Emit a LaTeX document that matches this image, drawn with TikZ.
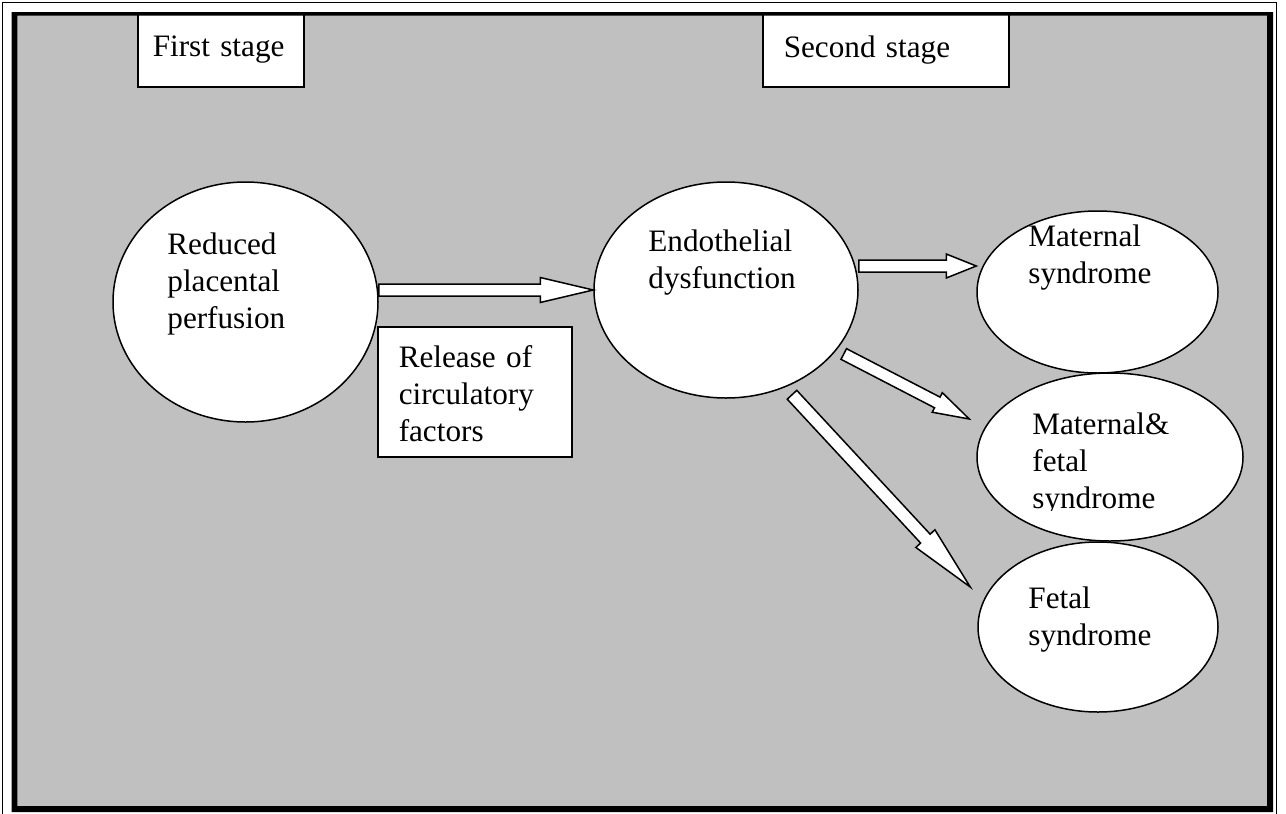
\documentclass[tikz,border=0pt]{standalone}
\usepackage{fontspec}
\setmainfont{Liberation Serif}
\usepackage{tikz}
\usetikzlibrary{shapes.geometric}
\usetikzlibrary{calc}
\usepackage{xcolor}
\definecolor{panelgray}{HTML}{C0C0C0}

\newcommand{\blockarrow}[5]{%
  \coordinate (ba-s) at (#1);
  \coordinate (ba-e) at (#2);
  \coordinate (ba-h) at ($(ba-e)!#5!(ba-s)$);
  \draw [fill=white,line width=0.75pt]
    ($(ba-s)!#3!90:(ba-e)$) -- ($(ba-h)!#3!90:(ba-e)$) -- ($(ba-h)!#4!90:(ba-e)$)
    -- (ba-e) -- ($(ba-h)!#4!-90:(ba-e)$) -- ($(ba-h)!#3!-90:(ba-e)$)
    -- ($(ba-s)!#3!-90:(ba-e)$) -- cycle;}

\begin{document}
\begin{tikzpicture}[x=0.5pt,y=-0.5pt,
  bubble/.style={ellipse,draw,fill=white,line width=0.75pt,inner sep=0pt},
  caption/.style={anchor=base west,align=left,inner sep=0pt,font=\fontsize{15.6}{18.5}\selectfont},
  textbox/.style={rectangle,draw,fill=white,line width=0.75pt,anchor=north west,
    inner ysep=0pt,align=left,font=\fontsize{15.6}{18.5}\selectfont}]
\useasboundingbox (0,0) rectangle (1286,814);
\fill [panelgray] (17,15) rectangle (1268,807);

\node [textbox,inner xsep=7.5pt,text width=68pt,minimum height=37pt,at={(137,12)}] (first) {First stage};
\node [textbox,inner xsep=10.5pt,text width=102pt,minimum height=37pt,at={(762,12)}] (second) {Second stage};

\node [bubble,minimum width=132.5pt,minimum height=120pt,at={(245.5,302)}] (rpp) {};
\node [bubble,minimum width=132pt,minimum height=108pt,at={(726,290)}] (endo) {};
\node [bubble,minimum width=120.5pt,minimum height=81pt,at={(1097.5,292)}] (mat) {};
\node [bubble,minimum width=133pt,minimum height=84pt,at={(1110,457)}] (matfet) {};
\node [bubble,minimum width=120pt,minimum height=85pt,at={(1098,627)}] (fet) {};

\node [textbox,inner xsep=10.5pt,text width=76pt,minimum height=65pt,at={(377,326)}] (release) {\rule{0pt}{13pt}Release of\\circulatory\\factors};

\node [caption,at={(167,328)}] (rpp-text) {Reduced\\placental\\perfusion};
\node [caption,at={(648,288)}] (endo-text) {Endothelial\\dysfunction};
\node [caption,at={(1028,283)}] (mat-text) {Maternal\\syndrome};
\begin{scope}
\clip (977,380) rectangle (1243,510);
\node [caption,at={(1032,508)}] (matfet-text) {Maternal\&\\fetal\\syndrome};
\end{scope}
\node [caption,at={(1028,645)}] (fet-text) {Fetal\\syndrome};

\blockarrow{$(rpp.east)+(0,-12)$}{endo.west}{3pt}{6.25pt}{26.5pt}
\blockarrow{$(endo.east)+(0,-24)$}{$(mat.west)+(0,-26)$}{3pt}{6pt}{15pt}
\blockarrow{$(endo.east)+(-15,64)$}{$(matfet.west)+(-7,-38)$}{3pt}{5.5pt}{18pt}
\blockarrow{$(endo.south)+(66,-4)$}{$(fet.west)+(-7,-40)$}{3.25pt}{6.5pt}{33pt}

\fill [even odd rule] (11.7,12) rectangle (1273,812) (17.3,15.7) rectangle (1267,806);
\draw [line width=0.75pt] (2.5,2.5) rectangle (1276.5,818);
\end{tikzpicture}
\end{document}
